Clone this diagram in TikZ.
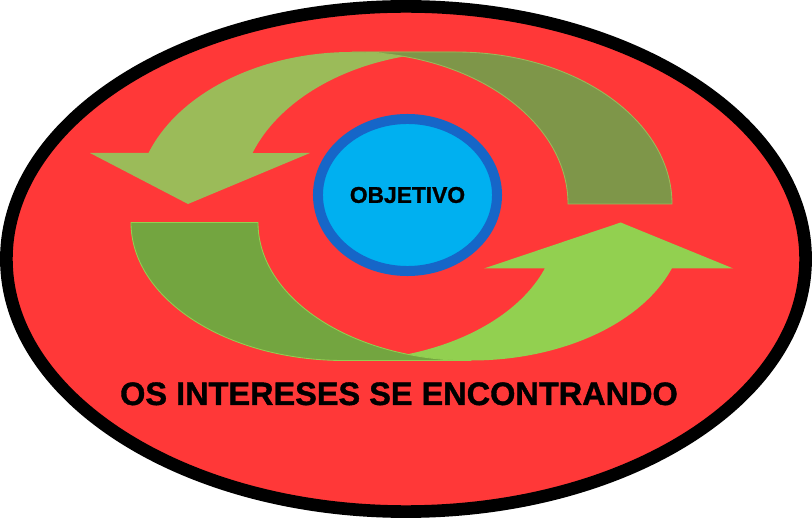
\documentclass[tikz,border=0pt]{standalone}
\usepackage{fontspec}
\setmainfont{Liberation Sans}
\newfontfamily\heavyfont[FakeBold=1.2]{Liberation Sans}
\usetikzlibrary{shapes.geometric}

\definecolor{bgred}{HTML}{FF3838}
\definecolor{leafgreen}{HTML}{9BBB59}
\definecolor{olivegreen}{HTML}{7E9649}
\definecolor{limegreen}{HTML}{92D050}
\definecolor{mossgreen}{HTML}{73A540}
\definecolor{skyblue}{HTML}{00B0F0}
\definecolor{ringblue}{HTML}{1666C8}

\begin{document}
\begin{tikzpicture}[x=0.025cm, y=-0.025cm,
    slogan/.style={font=\heavyfont\bfseries\fontsize{23.1}{28}\selectfont, inner sep=0pt, anchor=base},
    goal/.style={ellipse, draw=ringblue, fill=skyblue, line width=7.1pt, inner sep=0pt,
                 minimum width=4.475cm, minimum height=3.8cm, font=\heavyfont\bfseries\fontsize{16.2}{18}\selectfont},
    tail/.style={line width=0.6pt}]

   \useasboundingbox (0,0) rectangle (812,518);

   \filldraw[fill=bgred, draw=black, line width=9pt] (406,259) ellipse [x radius=399.6, y radius=252.6];

%upper arrow, head on the left
   \fill[leafgreen] (188,204) -- (90,153) -- (148.5,153)
        arc[start angle=199.6, end angle=270, x radius=216, y radius=152] -- (456,52)
        arc[start angle=270, end angle=199.6, x radius=216, y radius=152] -- (310,153) -- cycle;
   \filldraw[tail, fill=olivegreen, draw=leafgreen] (672,204)
        arc[start angle=0, end angle=-90, x radius=216, y radius=152] -- (352,52)
        arc[start angle=270, end angle=360, x radius=216, y radius=152] -- cycle;

%lower arrow, head on the right
   \fill[limegreen] (620.7,222.5) -- (733.3,268.5) -- (671.8,268.5)
        arc[start angle=19.47, end angle=90, x radius=213, y radius=138] -- (344,360.5)
        arc[start angle=90, end angle=19.47, x radius=213, y radius=138] -- (484,268.5) -- cycle;
   \filldraw[tail, fill=mossgreen, draw=limegreen] (131,222.5)
        arc[start angle=180, end angle=90, x radius=213, y radius=138] -- (471,360.5)
        arc[start angle=90, end angle=180, x radius=213, y radius=138] -- cycle;

%texts
   \node[goal] at (407.5,195) (objetivo) {OBJETIVO};
   \node[slogan] at (399,405) (title) {OS INTERESES SE ENCONTRANDO};

\end{tikzpicture}
\end{document}
